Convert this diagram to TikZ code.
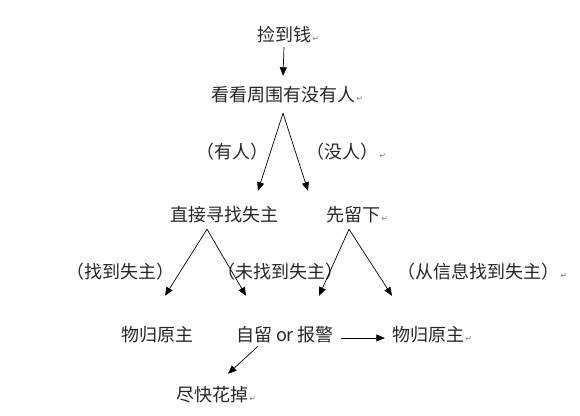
\documentclass[tikz,border=0pt]{standalone}
\usepackage{fontspec}
\setmainfont{Noto Sans CJK SC}
\newfontfamily\symfont{DejaVu Sans}
\usetikzlibrary{positioning, arrows.meta}
\newcommand{\pmark}{{\symfont\fontsize{8}{8}\selectfont ↵}}

\begin{document}
\begin{tikzpicture}[x=1pt,y=-1pt,
        txt/.style={font=\fontsize{18}{20}\selectfont, inner sep=0pt, text height=14pt, text depth=4pt, text=black!85},
        pm/.style={label={[gray,inner sep=1pt,yshift=-3pt]right:\pmark}},
        arr/.style={line width=0.7pt, -{Triangle[length=8.5pt,width=7pt]}}]
    \useasboundingbox (0,0) rectangle (580,415);
    % rows of text
    \node[txt,pm] (jian) at (284,36) {捡到钱};
    \node[txt,pm] (kan) at (283,96) {看看周围有没有人};
    \node[txt] (you) at (232,153) {（有人）};
    \node[txt,pm] (mei) at (342,153) {（没人）};
    \node[txt] (zhijie) at (224,216) {直接寻找失主};
    \node[txt,pm] (liu) at (353,216) {先留下};
    \node[txt] (zhao) at (120,273) {（找到失主）};
    \node[txt] (weizhao) at (280,273) {（未找到失主）};
    \node[txt,pm] (xinxi) at (478,273) {（从信息找到失主）};
    \node[txt] (wugui) at (157,336) {物归原主};
    \node[txt] (ziliu) at (285,336) {自留 or 报警};
    \node[txt,pm] (wuguib) at (428,336) {物归原主};
    \node[txt,pm] (jinkuai) at (212,396) {尽快花掉};
    % arrows
    \draw[arr] ([yshift=-2pt]jian.south) -- ([yshift=11pt]kan.north);
    \draw[arr] ([yshift=-8pt]kan.south) -- ([xshift=34pt,yshift=16pt]zhijie.north);
    \draw[arr] ([yshift=-8pt]kan.south) -- ([xshift=-45pt,yshift=16pt]liu.north);
    \draw[arr] ([xshift=-17pt,yshift=-4pt]zhijie.south) -- ([xshift=8pt,yshift=31pt]wugui.north);
    \draw[arr] ([xshift=-17pt,yshift=-4pt]zhijie.south) -- ([xshift=-39pt,yshift=31pt]ziliu.north);
    \draw[arr] ([xshift=-4pt,yshift=-4pt]liu.south) -- ([xshift=34pt,yshift=31pt]ziliu.north);
    \draw[arr] ([xshift=-4pt,yshift=-4pt]liu.south) -- ([xshift=-36pt,yshift=31pt]wuguib.north);
    \draw[arr] ([xshift=7pt,yshift=-2pt]ziliu.east) -- ([xshift=-7pt,yshift=-2pt]wuguib.west);
    \draw[arr] ([xshift=-27pt,yshift=-1pt]ziliu.south) -- ([xshift=16pt,yshift=13pt]jinkuai.north);
\end{tikzpicture}
\end{document}
